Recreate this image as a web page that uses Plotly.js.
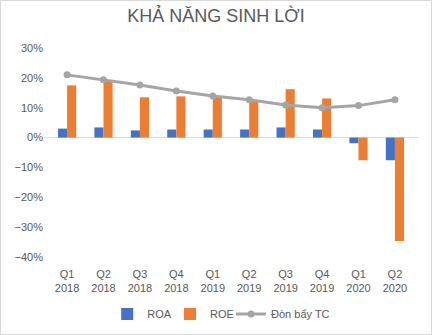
<!DOCTYPE html>
<html>
<head>
<meta charset="utf-8">
<script src="https://cdn.plot.ly/plotly-3.0.1.min.js"></script>
<style>
html,body{margin:0;padding:0;background:#fff;}
#wrap{width:432px;height:335px;box-sizing:border-box;border:1px solid #D9D9D9;}
#chart{width:430px;height:333px;}
</style>
</head>
<body>
<div id="wrap"><div id="chart"></div></div>
<script>
var categories = ["Q1<br>2018","Q2<br>2018","Q3<br>2018","Q4<br>2018","Q1<br>2019","Q2<br>2019","Q3<br>2019","Q4<br>2019","Q1<br>2020","Q2<br>2020"];
var roa = [0.030, 0.034, 0.024, 0.027, 0.027, 0.027, 0.034, 0.027, -0.019, -0.076];
var roe = [0.175, 0.190, 0.135, 0.138, 0.137, 0.125, 0.162, 0.131, -0.076, -0.346];
var leverage = [0.210, 0.194, 0.176, 0.156, 0.139, 0.127, 0.109, 0.100, 0.107, 0.127];

var font = {family: "Liberation Sans, Arial, sans-serif", color: "#595959"};

var traces = [
  {type: "bar", name: "ROA", x: categories, y: roa, marker: {color: "#4472C4"}, legend: "legend"},
  {type: "bar", name: "ROE", x: categories, y: roe, marker: {color: "#ED7D31"}, legend: "legend2"},
  {type: "scatter", mode: "lines+markers", name: "Đòn bẩy TC", x: categories, y: leverage,
   line: {color: "#A5A5A5", width: 3}, marker: {color: "#A5A5A5", size: 7}, legend: "legend3"}
];

var legendBase = {orientation: "h", xanchor: "left", xref: "container", yref: "container", y: 0.06, yanchor: "middle",
                  itemwidth: 30, bgcolor: "rgba(0,0,0,0)", font: {size: 11, color: "#595959"}};

var layout = {
  width: 430, height: 333,
  margin: {l: 43, r: 13, t: 47, b: 77},
  paper_bgcolor: "#fff", plot_bgcolor: "#fff",
  font: {family: font.family, color: font.color, size: 11},
  title: {text: "KHẢ NĂNG SINH LỜI", font: {family: font.family, color: "#595959", size: 18}, x: 0.5, xanchor: "center", y: 0.955, yanchor: "middle"},
  barmode: "group",
  bargap: 0.5,
  bargroupgap: 0,
  xaxis: {showgrid: false, showline: false, ticks: "", ticklabelstandoff: 9, automargin: false, tickfont: {size: 11, color: "#595959"}, fixedrange: true},
  yaxis: {range: [-0.4, 0.3], dtick: 0.1, tickformat: ".0%", showgrid: false, zeroline: true, automargin: false,
          zerolinecolor: "#D9D9D9", zerolinewidth: 1, showline: false, ticks: "",
          tickfont: {size: 11, color: "#595959"}, fixedrange: true},
  legend: Object.assign({}, legendBase, {x: 0.247}),
  legend2: Object.assign({}, legendBase, {x: 0.393}),
  legend3: Object.assign({}, legendBase, {x: 0.535}),
  showlegend: true
};

Plotly.newPlot("chart", traces, layout, {displayModeBar: false, staticPlot: true});
</script>
</body>
</html>
